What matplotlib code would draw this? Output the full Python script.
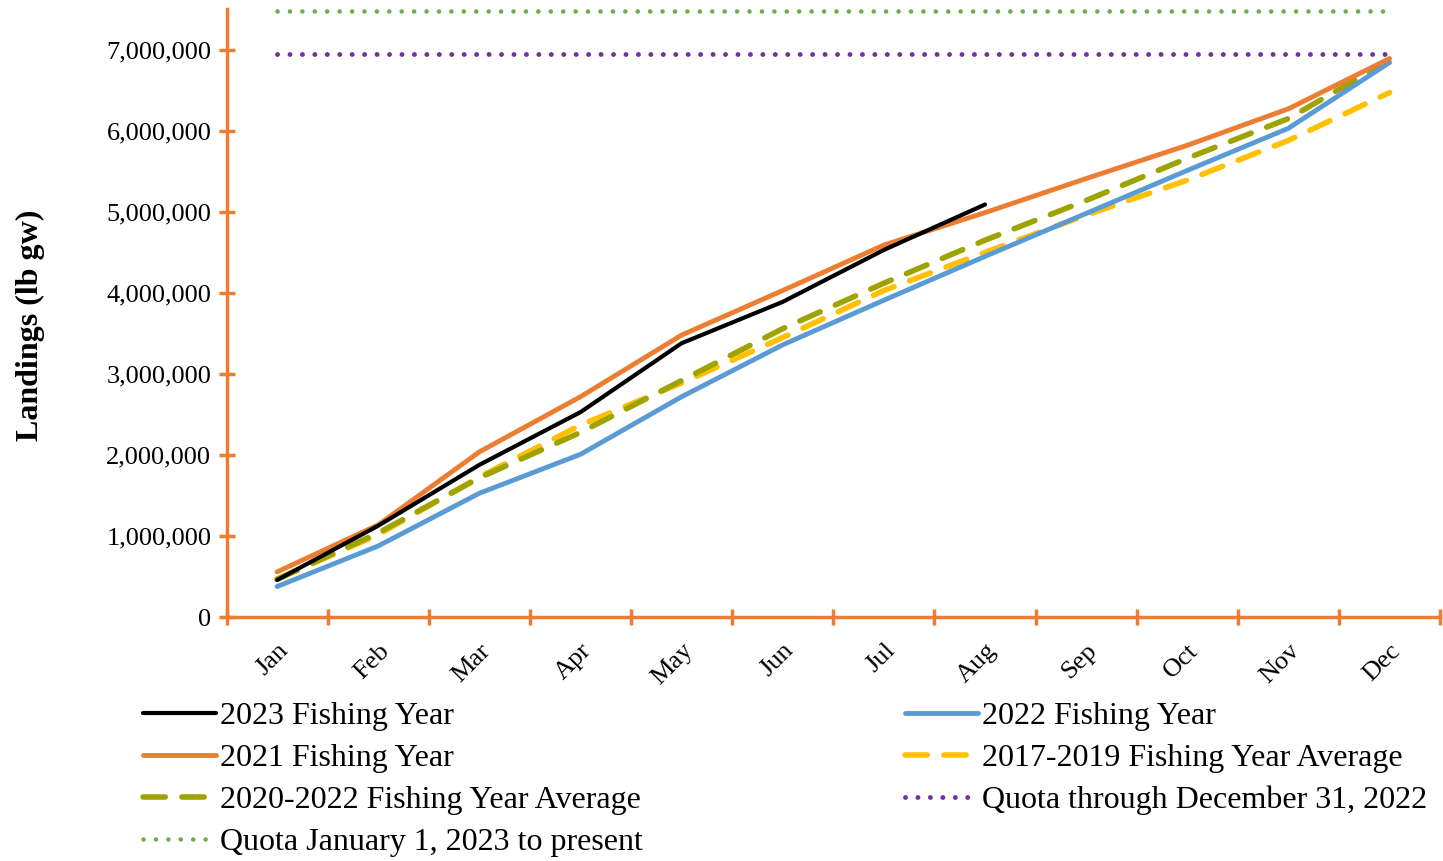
import matplotlib
matplotlib.use("Agg")
import matplotlib.pyplot as plt
from matplotlib.ticker import FuncFormatter

plt.rcParams['font.family'] = ['Liberation Serif', 'DejaVu Serif']

months = ["Jan", "Feb", "Mar", "Apr", "May", "Jun", "Jul", "Aug", "Sep", "Oct", "Nov", "Dec"]

# cumulative landings (lb gw)
fy2023 = [460000, 1130000, 1880000, 2530000, 3380000, 3890000, 4530000, 5090000]
fy2022 = [380000, 880000, 1530000, 2010000, 2720000, 3360000, 3910000, 4450000,
          4980000, 5510000, 6030000, 6840000]
fy2021 = [560000, 1140000, 2040000, 2720000, 3480000, 4030000, 4590000, 4990000,
          5410000, 5820000, 6270000, 6890000]
avg_2017_2019 = [470000, 1020000, 1730000, 2370000, 2890000, 3450000, 4030000, 4500000,
                 4960000, 5390000, 5880000, 6470000]
avg_2020_2022 = [470000, 1040000, 1720000, 2280000, 2920000, 3560000, 4120000, 4650000,
                 5140000, 5660000, 6150000, 6870000]
quota_thru_2022 = 6940000
quota_2023 = 7480000

x = list(range(len(months)))

fig = plt.figure(figsize=(14.43, 8.61), dpi=100)
ax = fig.add_axes([0.157, 0.283, 0.841, 0.7065])

ax.plot(x, [quota_2023] * len(x), color='#70AD47', lw=3.3, linestyle=(0, (0.01, 2.7)),
        dash_capstyle='round', label='Quota January 1, 2023 to present')
ax.plot(x, [quota_thru_2022] * len(x), color='#7030A0', lw=3.5, linestyle=(0, (0.01, 2.55)),
        dash_capstyle='round', label='Quota through December 31, 2022')
ax.plot(x, avg_2017_2019, color='#FFC000', lw=4, linestyle=(0, (4, 3)),
        dash_capstyle='round', label='2017-2019 Fishing Year Average')
ax.plot(x, avg_2020_2022, color='#9EA300', lw=4, linestyle=(0, (4, 3)),
        dash_capstyle='round', label='2020-2022 Fishing Year Average')
ax.plot(x, fy2022, color='#5B9BD5', lw=3.5, solid_capstyle='round', label='2022 Fishing Year')
ax.plot(x, fy2021, color='#ED7D31', lw=3.5, solid_capstyle='round', label='2021 Fishing Year')
ax.plot(x[:len(fy2023)], fy2023, color='black', lw=3, solid_capstyle='round',
        label='2023 Fishing Year')

ax.set_xlim(-0.5, 11.5)
ax.set_ylim(0, 7500000)
ax.set_yticks(range(0, 7000001, 1000000))
ax.yaxis.set_major_formatter(FuncFormatter(lambda v, p: f"{int(v):,}"))
ax.set_xticks(x)
ax.set_xticklabels(months, rotation=45, fontsize=19, ha='right', va='top',
                   rotation_mode='anchor')
ax.set_xticks([i + 0.5 for i in range(-1, 12)], minor=True)
ax.tick_params(axis='x', which='major', length=0, pad=16)
ax.tick_params(axis='x', which='minor', direction='inout', length=12, width=2.5, color='#ED7D31')
ax.tick_params(axis='y', direction='inout', length=12, width=2.5, color='#ED7D31', labelsize=19, pad=5)

for s in ['top', 'right']:
    ax.spines[s].set_visible(False)
for s in ['left', 'bottom']:
    ax.spines[s].set_color('#ED7D31')
    ax.spines[s].set_linewidth(2.5)

ax.set_ylabel('Landings (lb gw)', fontsize=23, fontweight='bold')
ax.yaxis.set_label_coords(-0.150, 0.48)

h, l = ax.get_legend_handles_labels()
order = [l.index(n) for n in ['2023 Fishing Year', '2021 Fishing Year',
                              '2020-2022 Fishing Year Average', 'Quota January 1, 2023 to present',
                              '2022 Fishing Year', '2017-2019 Fishing Year Average',
                              'Quota through December 31, 2022']]
fig.legend([h[i] for i in order], [l[i] for i in order], ncol=2, loc='upper left',
           bbox_to_anchor=(0.099, 0.185), frameon=False, fontsize=23,
           handlelength=2.3, handletextpad=0.12, columnspacing=8.2, labelspacing=0.4,
           borderaxespad=0, borderpad=0)

fig.savefig('out.png', dpi=100)
